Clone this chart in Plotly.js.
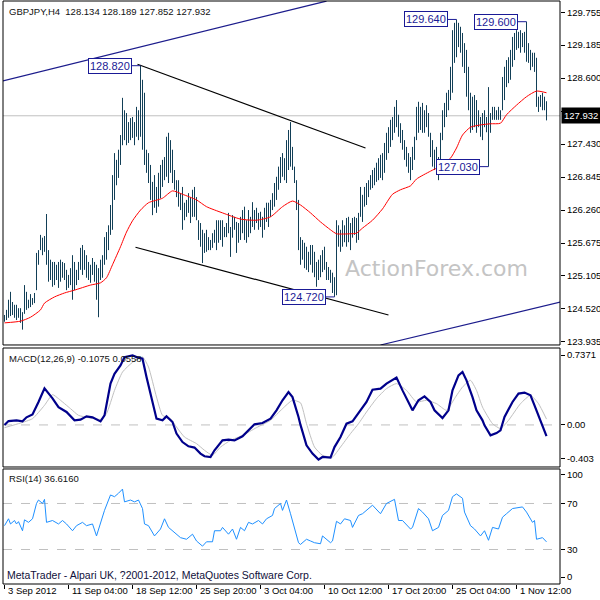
<!DOCTYPE html>
<html><head><meta charset="utf-8">
<script src="https://cdn.plot.ly/plotly-3.0.1.min.js"></script>
<style>html,body{margin:0;padding:0;background:#fff}#c{width:600px;height:600px}</style>
</head><body><div id="c"></div>
<script>
// ---- price bars (H4), index 0..271 ----
const highs = [124.40,124.49,124.67,124.81,124.63,124.58,124.58,124.52,124.52,124.45,124.93,124.81,124.67,124.77,124.70,124.79,125.50,125.55,125.82,125.77,
125.80,126.19,125.55,125.38,125.34,125.34,125.29,125.34,125.38,125.34,125.32,125.20,125.11,125.23,125.46,125.34,125.20,125.34,125.59,125.64,
125.55,125.46,125.34,125.29,125.41,125.34,125.29,125.23,125.38,125.46,125.78,125.87,125.99,126.35,126.88,127.27,127.15,127.33,127.59,128.25,
128.03,127.98,127.82,127.89,127.91,127.82,128.09,128.03,128.82,128.57,128.34,127.33,127.27,127.06,126.76,126.88,126.67,126.92,127.06,127.15,
127.20,127.56,127.63,127.50,127.33,126.97,126.79,126.79,126.56,126.67,126.39,126.44,126.56,126.49,126.62,126.67,126.49,126.08,126.03,125.91,
125.85,125.91,125.78,125.73,125.85,125.91,126.08,126.08,126.08,126.08,125.96,126.03,126.21,125.96,126.17,126.14,126.05,126.03,126.14,126.26,
126.32,126.08,126.26,126.14,126.40,126.26,126.30,126.21,126.23,126.14,126.30,126.39,126.39,126.44,126.56,126.74,126.85,127.03,127.20,127.27,
127.18,127.50,127.68,127.82,127.38,127.03,126.79,126.44,125.78,125.73,125.68,125.61,125.52,125.64,125.64,125.52,125.34,125.38,125.46,125.55,
125.61,125.34,125.25,125.20,125.15,125.07,126.08,125.99,125.91,126.08,125.99,126.12,126.14,126.03,126.12,126.14,126.12,126.21,126.67,126.53,
126.67,126.74,126.79,126.88,126.97,127.01,127.10,127.18,127.24,127.27,127.45,127.63,127.73,127.86,127.91,128.09,128.21,127.95,127.80,127.68,
127.50,127.38,127.27,127.20,127.38,127.56,128.09,128.18,128.09,128.16,128.03,128.12,127.98,127.63,127.50,127.33,127.38,127.20,127.63,128.03,
128.16,128.34,128.39,128.80,129.45,129.58,129.64,129.58,129.51,129.40,129.22,129.10,128.80,128.34,128.27,128.30,128.21,128.03,127.91,127.98,
128.03,127.91,128.44,127.98,128.09,128.09,128.03,128.09,128.03,128.62,128.80,128.92,128.97,129.10,129.33,129.40,129.45,129.42,129.45,129.40,
129.42,129.60,129.22,129.10,129.05,129.05,128.96,128.27,128.30,128.34,128.27,128.19];
const lows = [124.28,124.31,124.35,124.38,124.40,124.35,124.31,124.35,124.26,124.14,124.42,124.49,124.52,124.54,124.58,124.61,124.84,125.29,125.55,125.46,
125.52,125.29,124.99,125.02,124.90,124.93,125.02,124.88,124.99,125.06,125.02,124.84,124.88,124.93,124.67,124.84,124.93,125.02,125.20,125.11,
125.20,125.06,125.02,124.97,125.11,124.99,124.67,124.36,125.02,125.06,125.29,125.38,125.55,125.82,125.91,126.44,126.70,126.83,127.06,127.41,
127.50,127.41,127.45,127.50,127.54,127.41,127.56,127.50,127.56,127.33,127.06,126.92,126.74,126.44,126.17,126.30,126.21,126.32,126.47,126.67,
126.79,126.85,126.74,126.92,126.74,126.62,126.49,126.32,126.26,125.91,126.08,126.14,126.21,126.03,126.14,126.14,126.08,125.73,125.61,125.32,
125.50,125.52,125.55,125.55,125.59,125.68,125.55,125.68,125.73,125.61,125.78,125.78,125.85,125.43,125.77,125.91,125.50,125.68,125.73,125.85,
125.73,125.68,125.78,125.85,125.96,125.91,126.03,125.91,125.96,125.77,125.91,126.05,125.96,126.14,126.26,126.32,126.44,126.62,126.74,126.85,
126.79,126.74,126.97,127.03,126.97,126.74,126.26,125.55,125.29,125.38,125.23,125.20,125.16,125.29,125.15,125.07,124.90,125.02,125.07,125.16,
125.20,125.02,125.02,124.97,124.79,124.72,124.75,125.61,125.52,125.61,125.69,125.61,125.69,125.55,125.77,125.82,125.68,125.73,126.14,126.05,
126.32,126.35,126.49,126.62,126.65,126.70,126.76,126.79,126.83,126.79,126.92,127.15,127.27,127.38,127.50,127.63,127.73,127.56,127.45,127.33,
127.15,127.03,126.92,126.79,126.97,127.15,127.50,127.63,127.68,127.63,127.63,127.73,127.56,127.20,127.03,126.97,126.92,126.79,127.10,127.50,
127.73,127.91,128.03,128.21,128.34,128.87,128.97,129.15,129.05,128.80,128.69,128.27,128.03,127.63,127.68,127.73,127.63,127.73,127.56,127.50,
127.73,127.64,127.03,127.63,127.86,127.86,127.86,127.86,127.86,128.03,128.21,128.44,128.51,128.57,128.80,128.92,129.10,129.13,129.05,129.15,
129.05,128.89,128.87,128.74,128.80,128.71,128.09,128.00,128.09,128.03,128.03,127.85];

// ---- moving average (red) ----
const maIdx = [0,8,13,18,20,25,30,35,43,48,51,54,58,61,64,68,72,79,84,89,96,101,109,118,126,133,139,144,148,153,158,163,166,173,176,179,184,189,194,198,203,206,213,218,223,226,229,233,238,243,248,251,256,261,266,271];
const maVal = [124.26,124.29,124.36,124.49,124.61,124.72,124.79,124.84,124.93,124.97,125.06,125.29,125.61,125.87,126.07,126.26,126.39,126.47,126.60,126.54,126.44,126.32,126.21,126.10,126.08,126.14,126.32,126.42,126.35,126.21,126.05,125.91,125.84,125.84,125.85,125.94,126.08,126.28,126.54,126.62,126.69,126.81,126.95,127.04,127.18,127.36,127.59,127.73,127.77,127.79,127.80,127.95,128.12,128.27,128.37,128.34];

// ---- MACD(12,26,9) ----
const macdIdx = [0,2,6,9,11,14,17,20,24,27,31,35,38,41,44,48,50,53,55,58,60,64,66,69,71,74,76,79,81,84,86,89,92,95,98,100,103,105,109,112,115,119,122,125,129,133,136,139,142,144,147,148,151,154,157,159,163,165,168,171,174,178,181,184,188,191,196,199,202,204,207,210,213,215,219,222,224,227,229,231,234,236,239,240,243,246,248,250,254,257,260,263,265,268,271];
const macdVal = [0.00,0.037,0.044,0.034,0.073,0.10,0.22,0.35,0.255,0.17,0.124,0.044,0.05,0.082,0.073,0.034,0.092,0.396,0.49,0.57,0.65,0.667,0.65,0.635,0.46,0.236,0.06,0.044,0.082,0.028,-0.083,-0.164,-0.205,-0.217,-0.275,-0.30,-0.307,-0.243,-0.148,-0.141,-0.148,-0.109,-0.052,0.006,0.018,0.06,0.14,0.236,0.315,0.267,0.076,0.00,-0.195,-0.275,-0.332,-0.307,-0.313,-0.212,-0.116,0.012,0.034,0.14,0.22,0.338,0.348,0.396,0.453,0.331,0.22,0.14,0.236,0.274,0.22,0.14,0.066,0.14,0.331,0.475,0.507,0.427,0.267,0.14,0.044,-0.004,-0.10,-0.078,-0.052,0.076,0.22,0.30,0.31,0.284,0.188,0.044,-0.1075];
const sigIdx = [0,8,14,20,24,27,33,37,42,48,51,55,59,64,69,72,76,79,83,86,90,96,100,104,108,113,119,126,133,139,144,148,151,155,159,164,168,173,177,181,186,191,196,201,206,211,216,221,225,229,233,236,239,244,248,252,258,263,267,271];
const sigVal = [-0.026,0.018,0.06,0.188,0.29,0.252,0.156,0.092,0.07,0.054,0.108,0.331,0.507,0.60,0.65,0.555,0.267,0.092,0.06,-0.02,-0.116,-0.179,-0.243,-0.291,-0.212,-0.148,-0.10,-0.026,0.044,0.156,0.236,0.212,0.012,-0.212,-0.291,-0.307,-0.212,-0.083,0.012,0.124,0.252,0.348,0.396,0.331,0.22,0.236,0.204,0.14,0.252,0.363,0.427,0.331,0.171,0.012,-0.035,0.044,0.204,0.284,0.204,0.0558];

// ---- RSI(14) ----
const rsiIdx = [0,2,3,5,6,7,9,10,12,14,16,17,19,20,21,24,27,29,31,34,36,39,41,44,46,48,50,53,55,57,59,60,63,65,67,69,70,72,75,78,80,82,84,88,91,94,96,99,101,104,105,108,109,112,114,116,118,120,122,124,127,129,131,134,135,138,139,141,143,144,147,148,151,153,155,158,159,163,164,166,168,170,173,174,177,179,183,184,188,191,195,197,199,203,204,207,209,212,214,217,219,222,224,226,229,230,233,235,238,240,242,244,247,249,251,254,259,261,264,265,266,269,271];
const rsiVal = [50.7,56.7,52.2,55.2,52.2,54.2,46.3,55.8,53.6,56.7,70.0,73.0,70.0,73.6,53.6,55.2,52.2,55.2,52.2,46.3,50.7,53.6,50.7,52.2,41.8,52.2,64.0,77.4,75.9,78.9,82.5,71.4,73.0,71.4,73.0,65.6,52.2,50.7,41.8,47.8,56.7,49.2,46.3,40.3,38.9,43.3,37.4,32.9,36.7,36.7,46.3,46.3,49.2,43.3,47.8,38.9,49.2,46.3,53.6,52.2,55.2,52.2,56.7,59.6,65.6,70.0,64.0,73.0,61.1,55.2,35.9,34.4,38.9,37.4,35.9,35.0,41.8,35.9,37.4,54.5,52.2,56.7,55.2,49.2,59.6,61.1,67.0,68.5,61.1,70.0,73.6,55.2,55.2,47.8,49.2,65.6,62.5,56.7,46.3,49.2,59.6,64.0,75.9,78.3,74.5,62.5,50.7,47.8,41.8,46.3,38.0,49.2,47.8,58.1,61.1,65.6,67.0,62.5,53.6,55.2,38.9,40.3,36.616];

// ---- axis labels ----
const timeTickIdx = [0,32,64,96,128,160,192,224,256];
const timeTickText = ['3 Sep 2012','11 Sep 04:00','18 Sep 12:00','25 Sep 20:00','3 Oct 04:00','10 Oct 12:00','17 Oct 20:00','25 Oct 04:00','1 Nov 12:00'];
const priceTicks = [123.935,124.520,125.105,125.675,126.260,126.845,127.430,128.015,128.600,129.185,129.755];
const lastPrice = 127.932;
const ohlcTitle = 'GBPJPY,H4  128.134 128.189 127.852 127.932';

// ---- swing labels [barIndex, price, text] ----
const swings = [[68,128.82,'128.820'],[165,124.72,'124.720'],[226,129.64,'129.640'],[242,127.03,'127.030'],[261,129.60,'129.600']];
// ---- trend lines [i0,p0,i1,p1] ----
const channelLines = [[-0.75,128.55,161,129.966],[188,123.868,278,124.63]];
const wedgeLines = [[66.5,128.845,180.5,127.36],[65.5,125.60,192,124.40]];

const F = 'Liberation Sans, Arial, sans-serif';
const navy = '#1a1a96';

const bx=[], by=[];
for (let i=0;i<highs.length;i++){ bx.push(i,i,null); by.push(lows[i],highs[i],null); }

const traces = [
  {x:bx,y:by,type:'scatter',mode:'lines',line:{color:'#123f57',width:1},xaxis:'x',yaxis:'y',hoverinfo:'skip'},
  {x:maIdx,y:maVal,type:'scatter',mode:'lines',line:{color:'#ff0000',width:1,shape:'spline',smoothing:0.6},xaxis:'x',yaxis:'y'},
  {x:sigIdx,y:sigVal,type:'scatter',mode:'lines',line:{color:'#c0c0c0',width:1,shape:'spline',smoothing:0.5},xaxis:'x',yaxis:'y2'},
  {x:macdIdx,y:macdVal,type:'scatter',mode:'lines',line:{color:'#00008b',width:2.2},xaxis:'x',yaxis:'y2'},
  {x:rsiIdx,y:rsiVal,type:'scatter',mode:'lines',line:{color:'#1e90ff',width:1},xaxis:'x',yaxis:'y3'}
];

const shapes = [];
shapes.push({type:'line',xref:'paper',x0:0,x1:1,yref:'y',y0:lastPrice,y1:lastPrice,line:{color:'#c0c0c0',width:1},layer:'below'});
shapes.push({type:'line',xref:'paper',x0:0,x1:1,yref:'y2',y0:0,y1:0,line:{color:'#c0c0c0',width:1,dash:'dash'},layer:'below'});
[70,30].forEach(v=>shapes.push({type:'line',xref:'paper',x0:0,x1:1,yref:'y3',y0:v,y1:v,line:{color:'#c0c0c0',width:1,dash:'dash'},layer:'below'}));
channelLines.forEach(l=>shapes.push({type:'line',xref:'x',yref:'y',x0:l[0],y0:l[1],x1:l[2],y1:l[3],line:{color:'#1c1c8c',width:1.2}}));
wedgeLines.forEach(l=>shapes.push({type:'line',xref:'x',yref:'y',x0:l[0],y0:l[1],x1:l[2],y1:l[3],line:{color:'#000000',width:1.2}}));
['y','y2','y3'].forEach(a=>shapes.push({type:'rect',xref:'paper',x0:0,x1:1,yref:a+' domain',y0:0,y1:1,line:{color:'#000',width:1}}));

const annotations = [];
swings.forEach(s=>{
  const right = s[0]-4.3;
  shapes.push({type:'line',xref:'x',yref:'y',x0:right,x1:s[0],y0:s[1],y1:s[1],line:{color:navy,width:1}});
  annotations.push({xref:'x',yref:'y',x:right,y:s[1],xanchor:'right',yanchor:'middle',text:s[2],showarrow:false,
    font:{family:F,size:11,color:navy},bgcolor:'#ffffff',bordercolor:navy,borderwidth:1,borderpad:1});
});
annotations.push({xref:'paper',yref:'y',x:1,y:lastPrice,xanchor:'left',yanchor:'middle',xshift:1,text:lastPrice.toFixed(3),showarrow:false,
  font:{family:F,size:9.5,color:'#ffffff'},bgcolor:'#000000',borderpad:2});
const txt=(x,y,t,size,color,anchor)=>annotations.push({xref:'paper',yref:'paper',x:x,y:y,xanchor:anchor||'left',yanchor:'middle',text:t,showarrow:false,font:{family:F,size:size,color:color}});
txt(0.0072,0.9828,ohlcTitle,9.5,'#111');
txt(0.0072,0.3876,'MACD(12,26,9) -0.1075 0.0558',9.5,'#111');
txt(0.0072,0.1818,'RSI(14) 36.6160',9.5,'#111');
txt(0.0036,0.0154,'MetaTrader - Alpari UK, ?2001-2012, MetaQuotes Software Corp.',10.5,'#10103a');
annotations.push({xref:'paper',yref:'paper',x:0.7774,y:0.542,xanchor:'center',yanchor:'middle',text:'ActionForex.com',showarrow:false,
  font:{family:'DejaVu Sans, sans-serif',size:22,color:'#c4c4c4'}});
// time labels, left-aligned after their tick
timeTickIdx.forEach((v,k)=>annotations.push({xref:'x',yref:'paper',x:v,y:-0.011,xanchor:'left',yanchor:'middle',xshift:1,
  text:timeTickText[k],showarrow:false,font:{family:F,size:9.5,color:'#000'}}));

const yCommon = {side:'right',anchor:'x',showgrid:false,zeroline:false,showline:false,ticks:'outside',ticklen:4,tickcolor:'#000',
  tickfont:{family:F,size:9.5,color:'#000'},fixedrange:true};
const layout = {
  width:600,height:600,margin:{l:3,r:40,t:1,b:16},paper_bgcolor:'#fff',plot_bgcolor:'#fff',showlegend:false,hovermode:false,
  xaxis:{anchor:'y3',range:[-0.75,277.75],showgrid:false,zeroline:false,showline:false,ticks:'outside',ticklen:4,tickcolor:'#000',
    tickvals:timeTickIdx,showticklabels:false},
  yaxis:Object.assign({},yCommon,{domain:[0.41,1],range:[123.868,129.967],tickvals:priceTicks,ticktext:priceTicks.map(v=>v.toFixed(3))}),
  yaxis2:Object.assign({},yCommon,{domain:[0.2007,0.4048],range:[-0.403,0.7371],tickvals:[0.670,0,-0.326],ticktext:['0.7371','0.00','-0.403']}),
  yaxis3:Object.assign({},yCommon,{domain:[0,0.1973],range:[0,100],tickvals:[95,70,30,6],ticktext:['100','70','30','0']}),
  shapes:shapes,annotations:annotations
};
Plotly.newPlot('c',traces,layout,{staticPlot:true,displayModeBar:false});
</script></body></html>
